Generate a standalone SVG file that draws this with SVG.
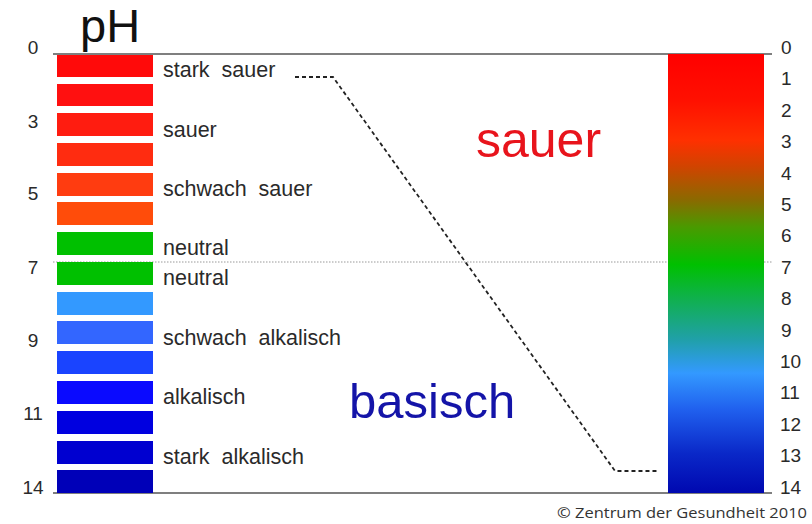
<svg xmlns="http://www.w3.org/2000/svg" width="812" height="524" viewBox="0 0 812 524">
<defs>
<linearGradient id="scale" x1="0" y1="0" x2="0" y2="1">
<stop offset="0" stop-color="#ff0000"/>
<stop offset="0.105" stop-color="#ff1000"/>
<stop offset="0.196" stop-color="#ff3000"/>
<stop offset="0.257" stop-color="#d04400"/>
<stop offset="0.333" stop-color="#8a6a00"/>
<stop offset="0.394" stop-color="#4a9a00"/>
<stop offset="0.48" stop-color="#00c000"/>
<stop offset="0.56" stop-color="#10b050"/>
<stop offset="0.65" stop-color="#20a0a8"/>
<stop offset="0.727" stop-color="#3399ff"/>
<stop offset="0.81" stop-color="#2060ee"/>
<stop offset="0.91" stop-color="#0a28c8"/>
<stop offset="1" stop-color="#0008b0"/>
</linearGradient>
</defs>
<style>
.lbl{font-family:"Liberation Sans",Arial,sans-serif;font-size:21.5px;fill:#2a2a2a}
.num{font-family:"Liberation Sans",Arial,sans-serif;font-size:19px;fill:#2a2a2a}
.lnum{text-anchor:middle}
.axis{stroke:#555;stroke-width:1.5;fill:none}
.mid{stroke:#999;stroke-width:1;stroke-dasharray:1.5 1.5;fill:none}
.dash{stroke:#222;stroke-width:1.8;stroke-dasharray:4 3;fill:none}
</style>
<rect width="812" height="524" fill="#ffffff"/>
<g id="title"><text x="80" y="42" font-family="Liberation Sans,Arial,sans-serif" font-size="47" fill="#111">pH</text></g>
<g id="axes">
<line class="axis" x1="53" y1="54" x2="772" y2="54"/>
<line class="axis" x1="53" y1="493" x2="772" y2="493"/>
<line class="mid" x1="53" y1="262" x2="772" y2="262"/>
</g>
<g id="bars">
<rect x="57" y="55" width="96" height="22" fill="#ff0a0a"/>
<rect x="57" y="84" width="96" height="22" fill="#ff1010"/>
<rect x="57" y="113" width="96" height="23" fill="#ff1c10"/>
<rect x="57" y="143" width="96" height="23" fill="#ff2c10"/>
<rect x="57" y="173" width="96" height="23" fill="#ff3c10"/>
<rect x="57" y="202" width="96" height="23" fill="#ff4c0a"/>
<rect x="57" y="232" width="96" height="23" fill="#00c000"/>
<rect x="57" y="262" width="96" height="23" fill="#00c000"/>
<rect x="57" y="292" width="96" height="23" fill="#3399ff"/>
<rect x="57" y="321" width="96" height="23" fill="#3366ff"/>
<rect x="57" y="351" width="96" height="23" fill="#1a44ff"/>
<rect x="57" y="381" width="96" height="23" fill="#0a0aff"/>
<rect x="57" y="411" width="96" height="23" fill="#0000e0"/>
<rect x="57" y="441" width="96" height="23" fill="#0000d0"/>
<rect x="57" y="470" width="96" height="23" fill="#0000b8"/>
</g>
<g id="left-numbers" class="num lnum">
<text x="33" y="54">0</text>
<text x="33" y="128">3</text>
<text x="33" y="200">5</text>
<text x="33" y="274">7</text>
<text x="33" y="347">9</text>
<text x="33" y="420">11</text>
<text x="33" y="494">14</text>
</g>
<g id="labels" class="lbl">
<text x="163" y="77" xml:space="preserve">stark  sauer</text>
<text x="163" y="137">sauer</text>
<text x="163" y="196" xml:space="preserve">schwach  sauer</text>
<text x="163" y="255">neutral</text>
<text x="163" y="285">neutral</text>
<text x="163" y="345" xml:space="preserve">schwach  alkalisch</text>
<text x="163" y="404">alkalisch</text>
<text x="163" y="464" xml:space="preserve">stark  alkalisch</text>
</g>
<g id="connectors">
<path class="dash" d="M295,77 H333 L615,471 H658"/>
</g>
<g id="zone-sauer"><text x="476" y="157" font-family="Liberation Sans,Arial,sans-serif" font-size="50" fill="#e8141c">sauer</text></g>
<g id="zone-basisch"><text x="349" y="418" font-family="Liberation Sans,Arial,sans-serif" font-size="49" fill="#1414a8">basisch</text></g>
<g id="scale-bar"><rect x="668" y="54" width="96" height="439" fill="url(#scale)"/></g>
<g id="right-numbers" class="num">
<text x="781" y="54">0</text>
<text x="781" y="85.4">1</text>
<text x="781" y="116.8">2</text>
<text x="781" y="148.2">3</text>
<text x="781" y="179.6">4</text>
<text x="781" y="211">5</text>
<text x="781" y="242.4">6</text>
<text x="781" y="273.8">7</text>
<text x="781" y="305.2">8</text>
<text x="781" y="336.6">9</text>
<text x="780" y="368">10</text>
<text x="780" y="399.4">11</text>
<text x="780" y="430.8">12</text>
<text x="780" y="462.2">13</text>
<text x="780" y="493.6">14</text>
</g>
<g id="copyright"><text x="557" y="518" font-family="Open Sans,Noto Sans,sans-serif" font-size="15" fill="#333" textLength="250" lengthAdjust="spacingAndGlyphs">© Zentrum der Gesundheit 2010</text></g>
</svg>
